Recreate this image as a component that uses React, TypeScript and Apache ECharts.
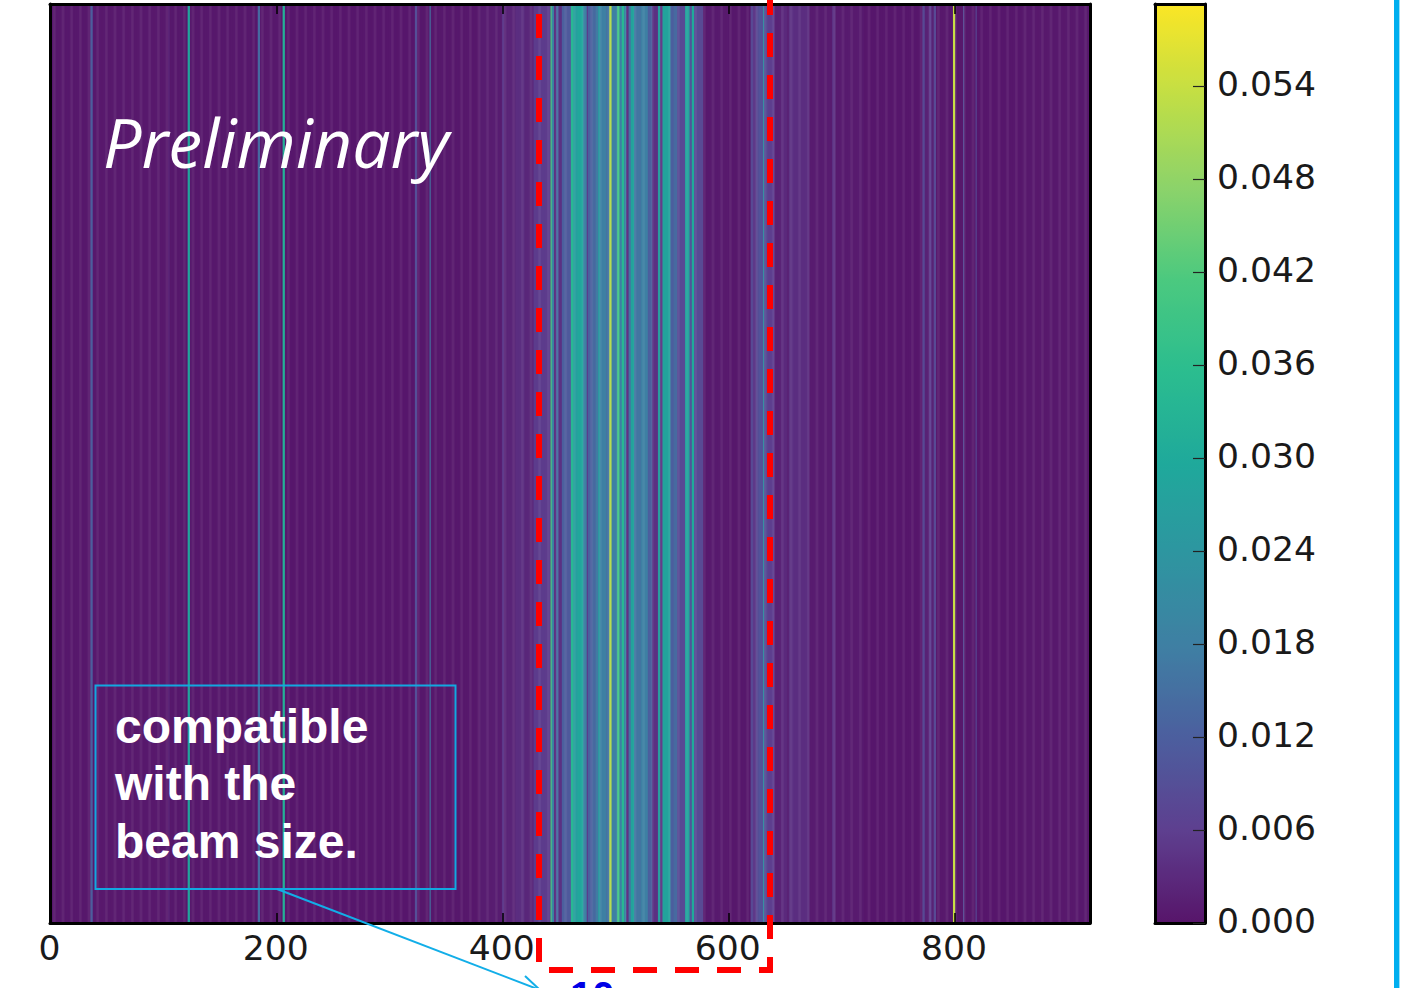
import React, { useEffect, useRef } from "react";
import * as echarts from "echarts";

const columnCount = 920;
const xTickStep = 200;
const colorMax = 0.0593;
const colorTickStep = 0.006;

// Step functions: [first column, value]; a value holds until the next first column.
const leftBands = [
  [0, 0.0004], [36, 0.012], [38, 0.0005], [105, 0.0025], [106, 0.0004], [122, 0.028], [124, 0.0004],
  [184, 0.014], [186, 0.0005], [206, 0.032], [208, 0.0003], [323, 0.009], [325, 0.0004], [336, 0.016],
  [337, 0.0004], [380, 0.0012],
];
const denseBands = [
  [400, 0.005], [402, 0.0022], [412, 0.0035], [420, 0.0025], [428, 0.0055], [443, 0.042], [444, 0.02],
  [446, 0.004], [448, 0.014], [450, 0.004], [453, 0.012], [456, 0.011], [461, 0.034], [463, 0.027],
  [467, 0.029], [472, 0.018], [475, 0.005], [476, 0.012], [480, 0.014], [483, 0.017], [485, 0.024],
  [487, 0.018], [492, 0.016], [495, 0.052], [497, 0.018], [502, 0.04], [504, 0.018], [506, 0.034],
  [508, 0.02], [510, 0.003], [512, 0.016], [514, 0.028], [517, 0.016], [523, 0.018], [529, 0.012],
  [533, 0.004], [538, 0.026], [540, 0.004], [542, 0.028], [549, 0.012], [552, 0.014], [555, 0.008],
  [562, 0.028], [566, 0.01], [568, 0.03], [570, 0.008], [578, 0.0007], [600, 0.0004],
];
const rightBands = [
  [620, 0.008], [622, 0.005], [625, 0.008], [627, 0.01], [631, 0.022], [632, 0.008], [635, 0.006],
  [641, 0.002], [647, 0.003], [652, 0.002], [654, 0.004], [658, 0.0035], [672, 0.001], [692, 0.004],
  [695, 0.0008], [720, 0.0003], [772, 0.008], [774, 0.002], [778, 0.006], [780, 0.002], [782, 0.008],
  [784, 0.0005], [799, 0.054], [801, 0.0004], [808, 0.009], [809, 0.0004], [819, 0.008], [820, 0.0003],
  [860, 0.0005],
];

const colorStops = ["#57156a", "#5e3f8f", "#4c5e9e", "#3f7fa3", "#2e95a0", "#1fa99b", "#2bbd8f", "#4bc97f", "#8cd36a", "#c1de45", "#fbe625"];

const columnLabels = Array.from({ length: columnCount }, (_, i) => String(i));
const rowLabels = ["0"];

function buildCells() {
  const bands = [...leftBands, ...denseBands, ...rightBands];
  const cells: number[][] = [];
  let band = 0;
  for (let col = 0; col < columnCount; col++) {
    while (band + 1 < bands.length && bands[band + 1][0] <= col) band++;
    cells.push([col, 0, bands[band][1]]);
  }
  return cells;
}

const black = "#000000";
const frameWidth = 3;
const edge = { show: true, onZero: false, lineStyle: { color: black, width: frameWidth } };

function option(): any {
  const everyStep = (i: number) => i % xTickStep === 0;
  const font = { fontFamily: "DejaVu Sans", fontSize: 34.6, color: "#1a1a1a" };
  const white = "#ffffff";
  const bodyFont = "bold 48px 'Liberation Sans'";
  return {
    animation: false,
    backgroundColor: white,
    grid: [
      { left: 50, top: 4, width: 1040, height: 919 },
      { left: 1155, top: 4, width: 50, height: 919 },
    ],
    xAxis: [
      {
        type: "category", gridIndex: 0, position: "bottom", data: columnLabels, z: 5, axisLine: edge,
        axisTick: { show: true, inside: true, length: 10, alignWithLabel: true, interval: everyStep, lineStyle: { color: black, width: 1.5 } },
        axisLabel: { show: true, interval: everyStep, margin: 7, padding: [0, 2, 0, 0], ...font }, splitLine: { show: false },
      },
      {
        type: "category", gridIndex: 0, position: "top", data: columnLabels, z: 5, axisLine: edge,
        axisTick: { show: true, inside: true, length: 10, alignWithLabel: true, interval: everyStep, lineStyle: { color: black, width: 1.5 } },
        axisLabel: { show: false }, splitLine: { show: false },
      },
      { type: "category", gridIndex: 1, position: "bottom", data: rowLabels, z: 5, axisLine: edge, axisTick: { show: false }, axisLabel: { show: false } },
      { type: "category", gridIndex: 1, position: "top", data: rowLabels, z: 5, axisLine: edge, axisTick: { show: false }, axisLabel: { show: false } },
    ],
    yAxis: [
      { type: "category", gridIndex: 0, position: "left", data: rowLabels, z: 5, axisLine: edge, axisTick: { show: false }, axisLabel: { show: false }, splitLine: { show: false } },
      { type: "category", gridIndex: 0, position: "right", data: rowLabels, z: 5, axisLine: edge, axisTick: { show: false }, axisLabel: { show: false }, splitLine: { show: false } },
      {
        type: "value", gridIndex: 1, position: "right", min: 0, max: colorMax, interval: colorTickStep, z: 5, axisLine: edge,
        axisTick: { show: true, inside: true, length: 12, lineStyle: { color: "#222222", width: 1.2 } },
        axisLabel: {
          show: true, inside: false, margin: 12, showMaxLabel: false,
          formatter: (v: number) => `{t|${v.toFixed(3)}}`,
          rich: { t: { ...font, padding: [0, 0, 4, 0] } },
        },
        splitLine: { show: false },
      },
      { type: "value", gridIndex: 1, position: "left", min: 0, max: colorMax, z: 5, axisLine: edge, axisTick: { show: false }, axisLabel: { show: false }, splitLine: { show: false } },
    ],
    visualMap: {
      type: "continuous", seriesIndex: 0, min: 0, max: colorMax, show: true, left: 1155, top: 4, padding: 0,
      itemWidth: 50, itemHeight: 919, calculable: false, hoverLink: false, showLabel: false,
      textStyle: { fontSize: 0, color: "transparent" }, inRange: { color: colorStops }, orient: "vertical",
    },
    series: [
      {
        type: "heatmap", xAxisIndex: 0, yAxisIndex: 0, data: buildCells(), z: 1, silent: true,
        progressive: 0, emphasis: { disabled: true },
      },
    ],
    graphic: [
      { type: "text", z: 20, x: 103, y: 107, style: { text: "Preliminary", fill: white, font: "italic 68px 'Open Sans'" } },
      { type: "rect", z: 20, shape: { x: 95.5, y: 685.5, width: 360, height: 203.5 }, style: { fill: "none", stroke: "#12a8e0", lineWidth: 2 } },
      { type: "text", z: 20, x: 115, y: 702, style: { text: "compatible", fill: white, font: bodyFont } },
      { type: "text", z: 20, x: 115, y: 759, style: { text: "with the", fill: white, font: bodyFont } },
      { type: "text", z: 20, x: 115, y: 817, style: { text: "beam size.", fill: white, font: bodyFont } },
      { type: "line", z: 20, shape: { x1: 277, y1: 889, x2: 540, y2: 990 }, style: { stroke: "#12aee8", lineWidth: 2 } },
      { type: "line", z: 20, shape: { x1: 525, y1: 976, x2: 540, y2: 990 }, style: { stroke: "#12aee8", lineWidth: 2 } },
      {
        type: "polyline", z: 21,
        shape: { points: [[539, 14], [539, 970], [770, 970], [770, 0]] },
        style: { fill: "none", stroke: "#ff0000", lineWidth: 6, lineDash: [24, 18], lineJoin: "miter" },
      },
      { type: "text", z: 21, x: 570, y: 976, style: { text: "10", fill: "#0000e6", font: "bold 40px 'Liberation Sans'" } },
      { type: "line", z: 20, shape: { x1: 1396.7, y1: 0, x2: 1396.7, y2: 988 }, style: { stroke: "#00aeef", lineWidth: 5.4 } },
    ],
  };
}

export default function App() {
  const ref = useRef<HTMLDivElement>(null);
  useEffect(() => {
    document.body.style.margin = "0";
    document.body.style.overflow = "hidden";
    const chart = echarts.init(ref.current as HTMLDivElement, undefined, { renderer: "svg" });
    chart.setOption(option());
    return () => chart.dispose();
  }, []);
  return <div ref={ref} style={{ position: "fixed", left: 0, top: 0, width: 1418, height: 988, overflow: "hidden" }} />;
}
